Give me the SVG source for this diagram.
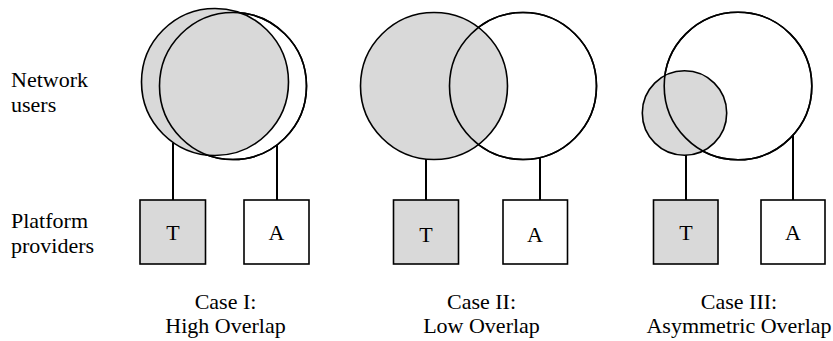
<svg xmlns="http://www.w3.org/2000/svg" width="833" height="341" viewBox="0 0 833 341" font-family="'Liberation Serif', 'Times New Roman', 'DejaVu Serif', serif" font-size="22">
<style>
text{font-family:'Liberation Serif','Times New Roman','DejaVu Serif',serif;font-size:22px;fill:#000}
.c{text-anchor:middle}
.g{fill:#d9d9d9;stroke:#000;stroke-width:1.6}
.w{fill:#fff;stroke:#000;stroke-width:1.6}
.o{fill:none;stroke:#000;stroke-width:1.6}
.ln{stroke:#000;stroke-width:2;fill:none}
</style>
<rect width="833" height="341" fill="#fff"/>
<g id="row-labels">
<text x="11" y="87">Network</text>
<text x="11" y="112">users</text>
<text x="11" y="228">Platform</text>
<text x="11" y="253">providers</text>
</g>
<g id="connectors">
<line class="ln" x1="173" y1="143" x2="173" y2="200"/>
<line class="ln" x1="277" y1="145" x2="277" y2="200"/>
<line class="ln" x1="426" y1="159" x2="426" y2="200"/>
<line class="ln" x1="540" y1="157" x2="540" y2="200"/>
<line class="ln" x1="686" y1="155" x2="686" y2="200"/>
<line class="ln" x1="793" y1="135" x2="793" y2="200"/>
</g>
<g id="case1-users">
<circle class="w" cx="233" cy="86" r="73.5"/>
<circle class="g" cx="215" cy="82" r="73.5"/>
<circle class="o" cx="233" cy="86" r="73.5"/>
</g>
<g id="case2-users">
<circle class="w" cx="523" cy="86" r="73.5"/>
<circle class="g" cx="434" cy="86" r="73.5"/>
<circle class="o" cx="523" cy="86" r="73.5"/>
</g>
<g id="case3-users">
<circle class="w" cx="738" cy="86" r="73.8"/>
<circle class="g" cx="684.5" cy="113" r="42.2"/>
<circle class="o" cx="738" cy="86" r="73.8"/>
</g>
<g id="case1-T"><rect class="g" x="140" y="200" width="65.5" height="64"/><text class="c" x="173" y="240">T</text></g>
<g id="case1-A"><rect class="w" x="244" y="200" width="65" height="64"/><text class="c" x="276.5" y="240">A</text></g>
<g id="case2-T"><rect class="g" x="393.5" y="200" width="65" height="64"/><text class="c" x="426" y="242">T</text></g>
<g id="case2-A"><rect class="w" x="503" y="200" width="64.5" height="64"/><text class="c" x="535" y="242">A</text></g>
<g id="case3-T"><rect class="g" x="653.5" y="200" width="64.5" height="64"/><text class="c" x="686" y="240">T</text></g>
<g id="case3-A"><rect class="w" x="761" y="200" width="64" height="64"/><text class="c" x="793" y="240">A</text></g>
<g id="case-labels">
<text class="c" x="225.5" y="309">Case I:</text>
<text class="c" x="225.5" y="333">High Overlap</text>
<text class="c" x="481.5" y="309">Case II:</text>
<text class="c" x="481.5" y="333">Low Overlap</text>
<text class="c" x="739" y="309">Case III:</text>
<text class="c" x="739" y="333">Asymmetric Overlap</text>
</g>
</svg>
